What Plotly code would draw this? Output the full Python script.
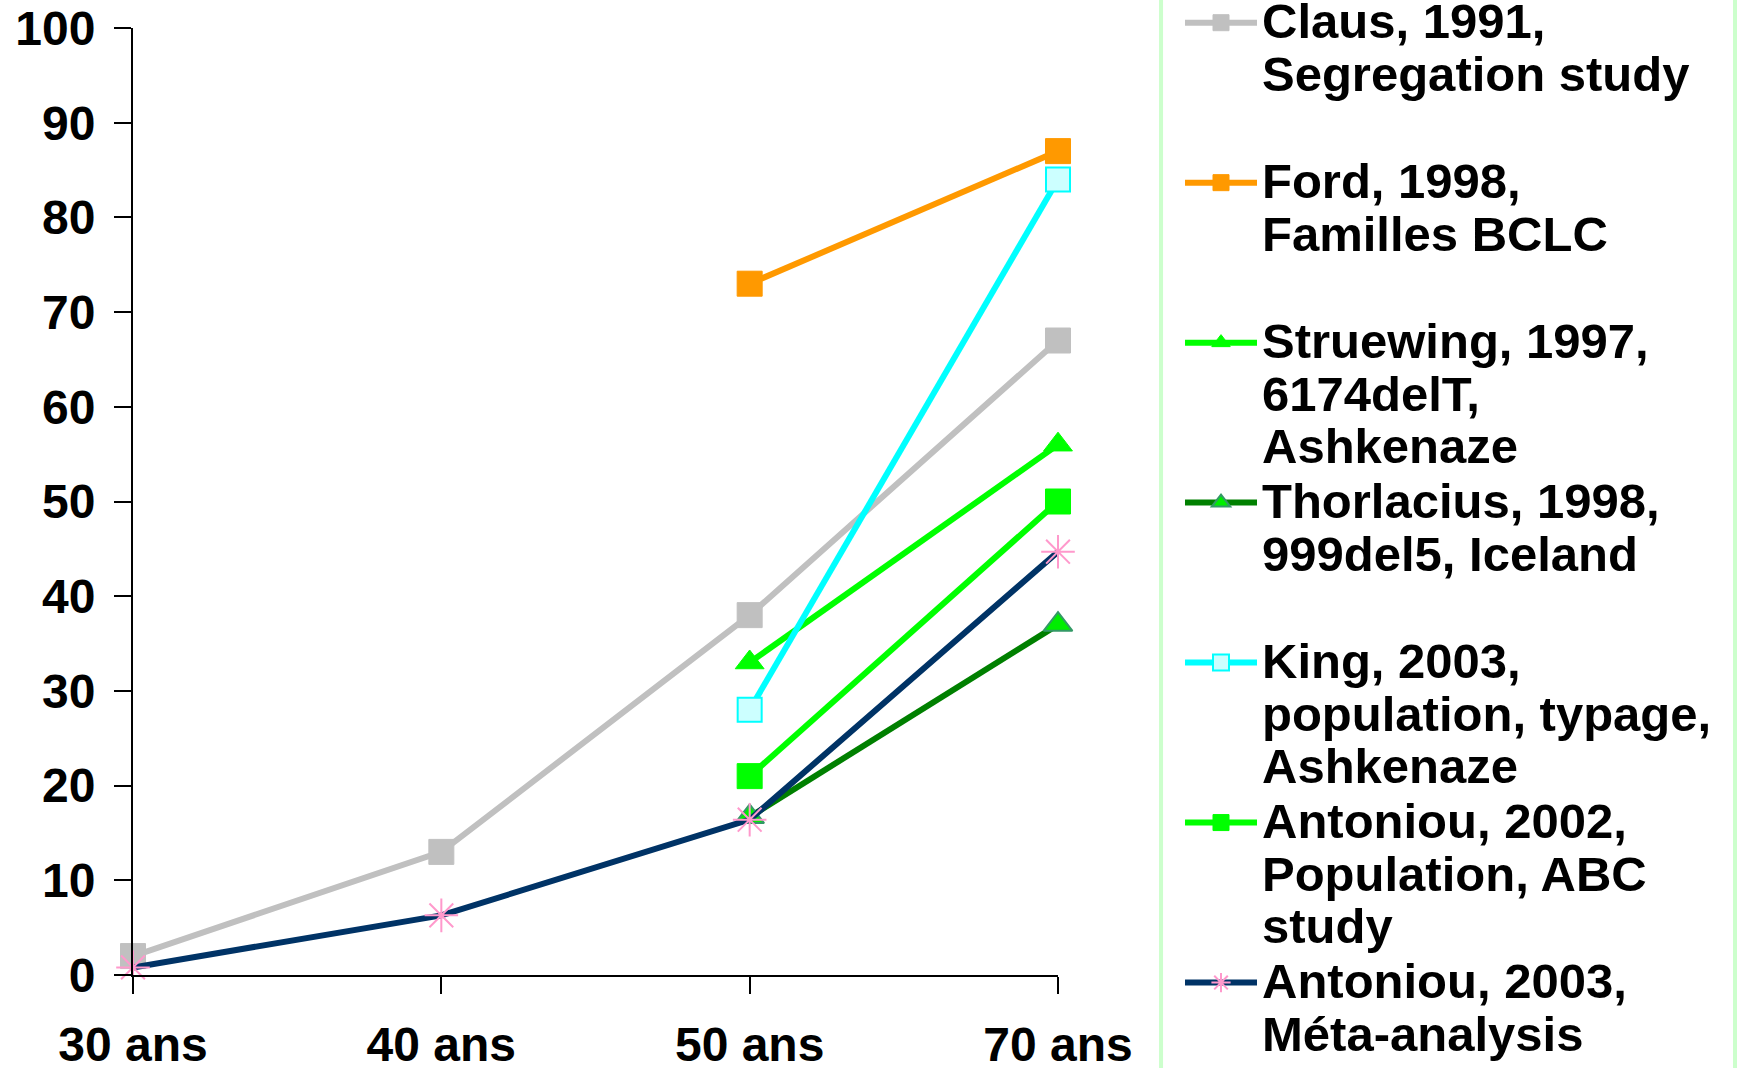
import plotly.graph_objects as go

# ---- data ----
ages = ["30 ans", "40 ans", "50 ans", "70 ans"]

claus_1991 = [2, 13, 38, 67]
ford_1998 = [None, None, 73, 87]
struewing_1997 = [None, None, 33, 56]
thorlacius_1998 = [None, None, 16.7, 37]
king_2003 = [None, None, 28, 84]
antoniou_2002 = [None, None, 21, 50]
antoniou_2003 = [0.8, 6.3, 16.4, 44.7]

names = [
    "Claus, 1991,<br>Segregation study",
    "Ford, 1998,<br>Familles BCLC",
    "Struewing, 1997,<br>6174delT,<br>Ashkenaze",
    "Thorlacius, 1998,<br>999del5, Iceland",
    "King, 2003,<br>population, typage,<br>Ashkenaze",
    "Antoniou, 2002,<br>Population, ABC<br>study",
    "Antoniou, 2003,<br>Méta-analysis",
]
y_ticks = [0, 10, 20, 30, 40, 50, 60, 70, 80, 90, 100]

series = [claus_1991, ford_1998, struewing_1997, thorlacius_1998,
          king_2003, antoniou_2002, antoniou_2003]

styles = [
    dict(line="#C0C0C0", symbol="square", mfill="#C0C0C0", mline="#C0C0C0", size=25, mw=1),
    dict(line="#FF9900", symbol="square", mfill="#FF9900", mline="#FF9900", size=25, mw=1),
    dict(line="#00FF00", symbol="triangle-up", mfill="#00FF00", mline="#00FF00", size=25, mw=1),
    dict(line="#008000", symbol="triangle-up", mfill="#00EE00", mline="#339966", size=25, mw=2),
    dict(line="#00FFFF", symbol="square", mfill="#CCFFFF", mline="#00FFFF", size=24, mw=2),
    dict(line="#00FF00", symbol="square", mfill="#00FF00", mline="#00FF00", size=25, mw=1),
    dict(line="#003366", symbol="asterisk-open", mfill="#FF99CC", mline="#FF99CC", size=28, mw=2),
]

LEG_GLYPH = 49


def legend_label(txt):
    lines = txt.split("<br>")
    while len(lines) < 3:
        lines.append(" ")
    return "<br>".join('<span style="font-size:%dpx">%s</span>' % (LEG_GLYPH, l) for l in lines)


fig = go.Figure()
for vals, name, st in zip(series, names, styles):
    fig.add_trace(go.Scatter(
        x=ages, y=vals, name=legend_label(name), mode="lines+markers",
        line=dict(color=st["line"], width=6),
        marker=dict(symbol=st["symbol"], size=st["size"], color=st["mfill"],
                    line=dict(color=st["mline"], width=st["mw"])),
        cliponaxis=False, connectgaps=False,
    ))

font_family = "Liberation Sans, Arial, sans-serif"
tick_font = dict(family=font_family, size=48, color="black", weight="bold")

fig.update_layout(
    width=1737, height=1068,
    margin=dict(l=133, r=679, t=28, b=93, autoexpand=False),
    paper_bgcolor="white", plot_bgcolor="white",
    font=dict(family=font_family, size=48, color="black", weight="bold"),
    showlegend=True,
    legend=dict(
        x=1.1319, y=1.0401, xanchor="left", yanchor="top",
        xref="paper", yref="paper",
        font=dict(family=font_family, size=40.25, color="black", weight="bold"),
        itemwidth=72, valign="top", borderwidth=0, bgcolor="rgba(0,0,0,0)",
        traceorder="normal", maxheight=1400,
    ),
    xaxis=dict(
        type="category", categoryorder="array", categoryarray=ages,
        range=[0, 3], showgrid=False, zeroline=False,
        showline=True, linecolor="black", linewidth=2,
        ticks="outside", ticklen=17, tickwidth=2, tickcolor="black",
        tickfont=tick_font, ticklabelstandoff=9,
    ),
    yaxis=dict(
        range=[0, 100], tickvals=y_ticks, showgrid=False, zeroline=False,
        showline=True, linecolor="black", linewidth=2,
        ticks="outside", ticklen=17, tickwidth=2, tickcolor="black",
        tickfont=tick_font, ticklabelstandoff=9,
    ),
    shapes=[
        dict(type="line", xref="paper", yref="paper", x0=1.1114, x1=1.1114, y0=-0.2, y1=1.2,
             line=dict(color="#CCFFCC", width=4)),
        dict(type="line", xref="paper", yref="paper", x0=1.7319, x1=1.7319, y0=-0.2, y1=1.2,
             line=dict(color="#CCFFCC", width=4)),
    ],
)

fig.write_html("out.html")
